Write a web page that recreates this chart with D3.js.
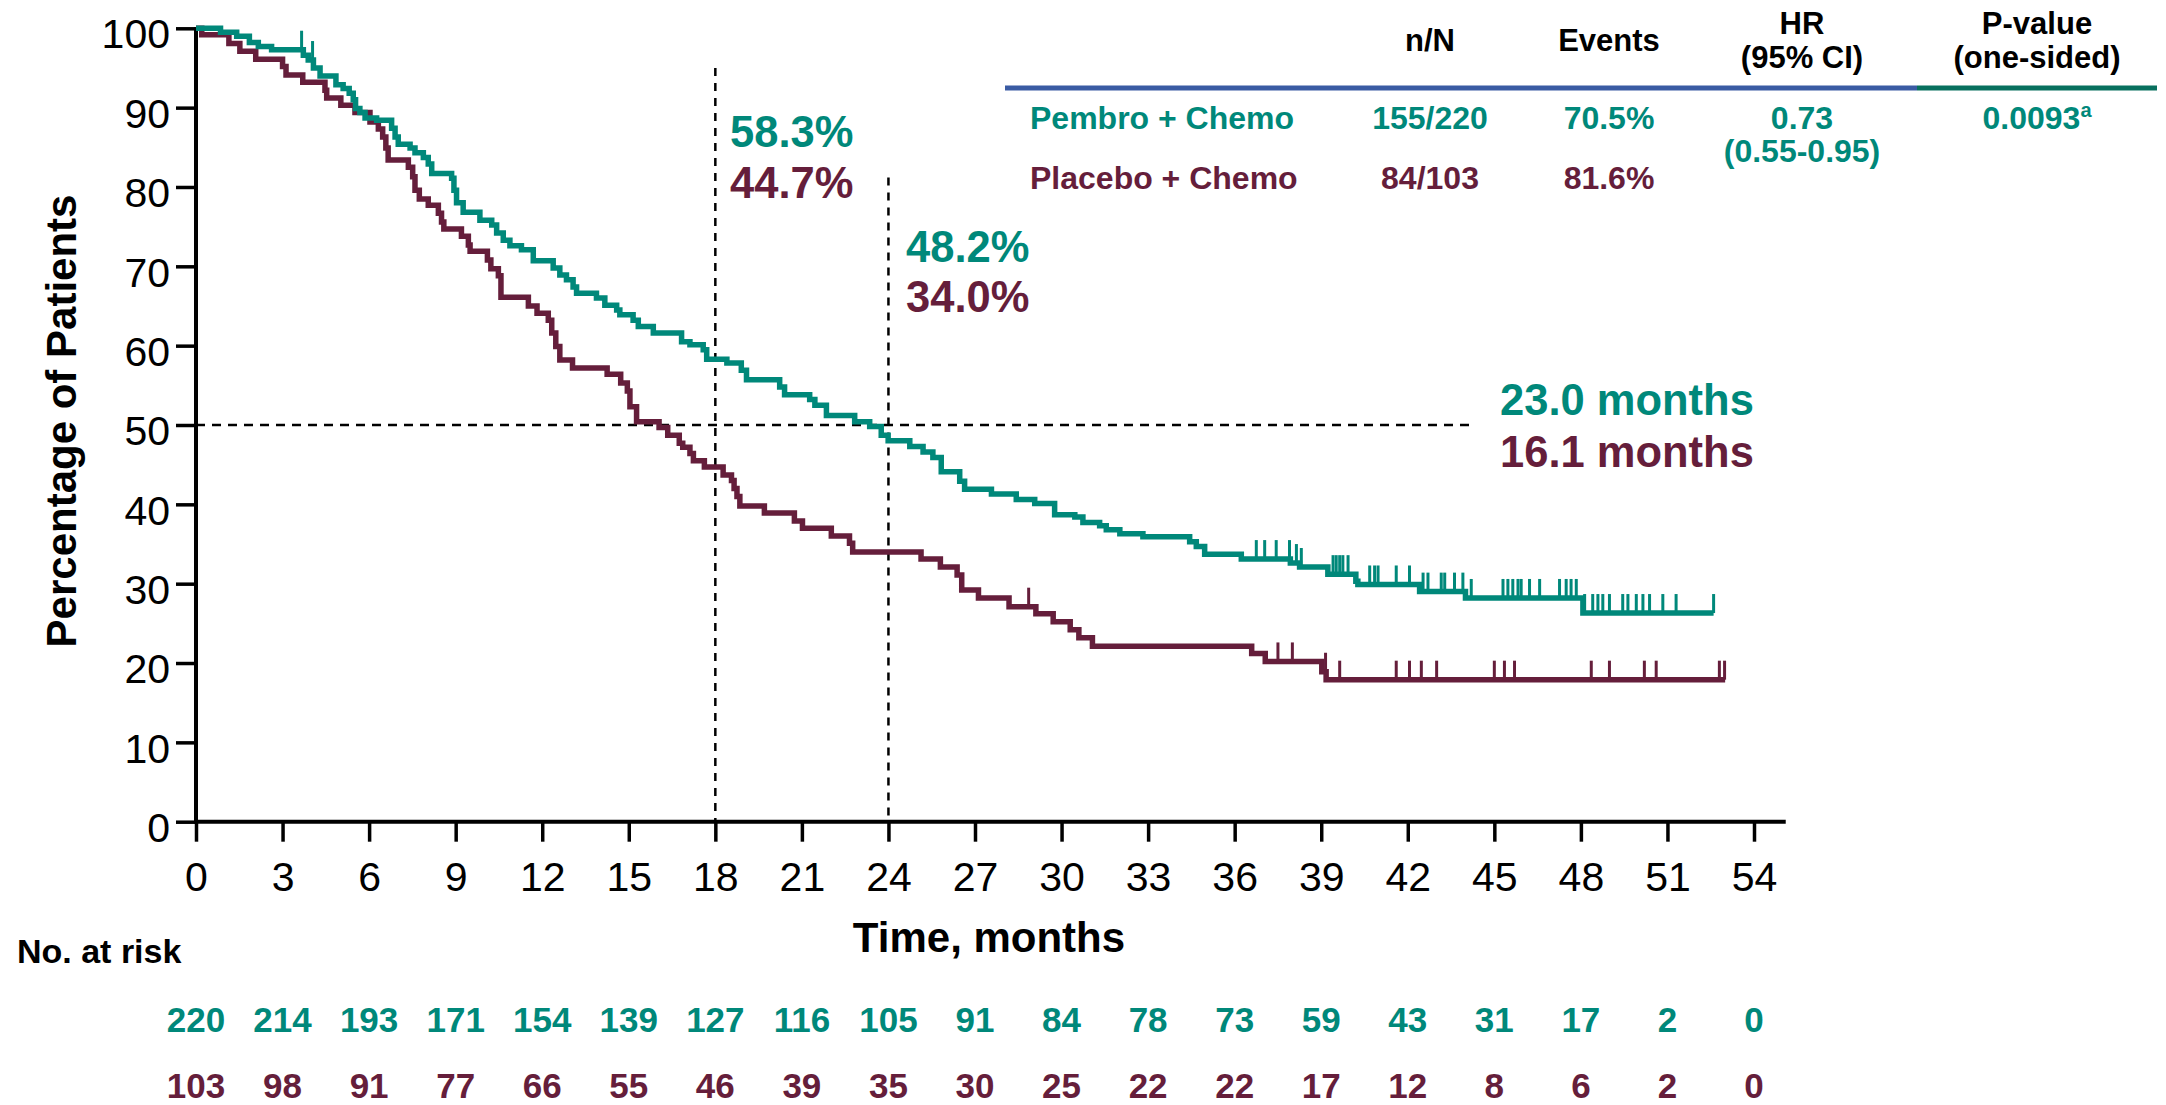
<!DOCTYPE html>
<html>
<head>
<meta charset="utf-8">
<script src="https://cdn.jsdelivr.net/npm/d3@7"></script>
<style>
  body { margin: 0; background: #fff; }
  svg { display: block; }
  text { font-family: "Liberation Sans", Arial, sans-serif; }
</style>
</head>
<body>
<div id="graphic"></div>
<script>
// ---- data ----
var monthTicks = d3.range(0, 55, 3);
var pctTicks = d3.range(0, 101, 10);

// Pembro + Chemo: step times (months) and survival (%) after each step
var pembroTimes = [0.85, 1.41, 1.85, 2.16, 2.62, 3.72, 3.89, 4.07, 4.30, 4.85, 5.10, 5.31, 5.45, 5.53, 5.68, 5.86,
	6.26, 6.78, 6.90, 7.01, 7.42, 7.59, 7.88, 8.05, 8.17, 8.86, 8.94, 9.03, 9.26, 9.84, 10.25, 10.42, 10.65, 10.88,
	11.28, 11.69, 12.38, 12.61, 12.84, 13.07, 13.19, 13.88, 14.17, 14.58, 14.69, 15.15, 15.33, 15.85, 16.83, 17.12,
	17.58, 17.70, 18.40, 18.90, 19.08, 20.23, 20.40, 21.27, 21.45, 21.85, 22.83, 23.35, 23.75, 23.99, 24.74, 25.20,
	25.54, 25.83, 26.47, 26.64, 27.57, 28.43, 29.07, 29.76, 30.46, 30.74, 31.32, 31.55, 32.02, 32.82, 34.44, 34.67,
	34.96, 36.23, 37.93, 38.25, 39.23, 40.20, 40.27, 42.41, 44.00, 48.07];
var pembroSurv = [99.5, 99.0, 98.2, 97.7, 97.3, 96.6, 96.0, 95.0, 94.0, 92.9, 92.4, 91.8, 91.0, 89.9, 89.4, 88.7,
	88.4, 87.4, 86.3, 85.4, 84.9, 84.3, 83.7, 82.9, 81.7, 81.1, 79.6, 78.0, 76.8, 75.8, 75.2, 74.2, 73.3, 72.6,
	72.1, 70.7, 69.8, 68.9, 68.3, 67.4, 66.6, 66.0, 65.1, 64.5, 63.9, 63.2, 62.4, 61.6, 60.5, 60.1,
	59.5, 58.3, 57.8, 56.9, 55.7, 54.8, 53.8, 53.2, 52.5, 51.2, 50.4, 49.8, 48.7, 48.0, 47.3, 46.6,
	45.9, 44.1, 42.9, 41.9, 41.3, 40.6, 40.1, 38.7, 38.4, 37.7, 37.3, 36.8, 36.3, 35.9, 35.3, 34.7,
	33.7, 33.1, 32.6, 32.1, 31.2, 30.3, 29.9, 29.0, 28.2, 26.3];
var pembroEnd = 52.6;
var pembroCensor = [3.66, 4.04, 36.75, 37.04, 37.44, 37.90, 38.14, 38.31, 39.41, 39.52, 39.64, 39.75, 39.93,
	40.68, 40.85, 40.97, 41.60, 42.06, 42.53, 42.70, 43.16, 43.28, 43.62, 43.91, 44.20, 45.30, 45.47, 45.64,
	45.82, 45.93, 46.22, 46.57, 47.26, 47.49, 47.66, 47.84, 48.13, 48.41, 48.59, 48.76, 48.99, 49.45, 49.63,
	49.92, 50.15, 50.38, 50.84, 51.30, 52.60];

// Placebo + Chemo
var placeboTimes = [0.20, 1.14, 1.52, 2.07, 3.00, 3.12, 3.70, 4.47, 4.53, 5.02, 5.51, 6.03, 6.32, 6.47, 6.58, 6.66,
	7.36, 7.51, 7.59, 7.74, 8.05, 8.40, 8.51, 8.59, 9.20, 9.44, 9.50, 10.10, 10.22, 10.48, 10.57, 11.52, 11.82,
	12.21, 12.33, 12.47, 12.61, 13.05, 14.25, 14.72, 14.95, 15.04, 15.27, 16.05, 16.35, 16.75, 16.87, 17.12,
	17.24, 17.62, 18.27, 18.56, 18.65, 18.75, 18.85, 19.70, 20.74, 21.02, 22.02, 22.65, 22.76, 25.13, 25.80,
	26.38, 26.54, 27.12, 28.18, 29.11, 29.71, 30.30, 30.60, 31.07, 36.59, 37.06, 39.02, 39.17];
var placeboSurv = [99.2, 98.1, 97.1, 96.1, 95.2, 94.1, 93.2, 92.2, 91.2, 90.3, 89.4, 88.2, 87.3, 86.3, 84.9, 83.4,
	82.5, 81.3, 79.6, 78.5, 77.7, 76.7, 75.6, 74.7, 73.8, 72.7, 71.9, 70.8, 69.7, 68.8, 66.1, 65.0, 64.1,
	63.2, 61.6, 59.9, 58.2, 57.2, 56.4, 55.3, 54.3, 52.3, 50.4, 49.7, 48.7, 47.7, 47.2, 46.4,
	45.5, 44.7, 43.7, 43.0, 42.0, 41.0, 39.8, 38.9, 37.9, 37.0, 36.0, 35.1, 34.0, 33.1, 32.1,
	31.1, 29.2, 28.2, 27.1, 26.2, 25.2, 24.2, 23.2, 22.1, 21.2, 20.2, 18.9, 17.9];
var placeboEnd = 53.0;
var placeboCensor = [28.86, 37.50, 38.00, 39.15, 39.64, 41.60, 42.06, 42.47, 43.00, 45.00, 45.35, 45.70,
	48.36, 48.99, 50.20, 50.61, 52.80, 52.98];

// numbers at risk
var riskPembro = [220, 214, 193, 171, 154, 139, 127, 116, 105, 91, 84, 78, 73, 59, 43, 31, 17, 2, 0];
var riskPlacebo = [103, 98, 91, 77, 66, 55, 46, 39, 35, 30, 25, 22, 22, 17, 12, 8, 6, 2, 0];

// landmark reference lines
var landmarks = [{ t: 18, top: 95.0 }, { t: 24, top: 81.2 }];
var medianLine = { v: 50, end: 44.3 };

// summary table
var tableHeaders = [
	{ lines: ["n/N"], col: 0 },
	{ lines: ["Events"], col: 1 },
	{ lines: ["HR", "(95% CI)"], col: 2 },
	{ lines: ["P-value", "(one-sided)"], col: 3 }
];
var armNames = ["Pembro + Chemo", "Placebo + Chemo"];
var armNN = ["155/220", "84/103"];
var armEvents = ["70.5%", "81.6%"];

var teal = "#00887a";
var maroon = "#651e3b";

// ---- layout ----
var W = 2166, H = 1105;
var svg = d3.select("#graphic").append("svg").attr("width", W).attr("height", H);

var x = d3.scaleLinear().domain([0, 54]).range([196, 1754]);
var y = d3.scaleLinear().domain([0, 100]).range([821.7, 28.3]);
var axisEnd = 55.1;

// x axis
var gx = svg.append("g")
	.attr("transform", "translate(0," + y(0) + ")")
	.call(d3.axisBottom(x).tickValues(monthTicks).tickSize(20).tickSizeOuter(0).tickPadding(20));
gx.select(".domain").remove();
gx.append("line")
	.attr("x1", x(0) - 2).attr("x2", x(axisEnd))
	.attr("stroke", "#000").attr("stroke-width", 4);
gx.selectAll(".tick line").attr("stroke", "#000").attr("stroke-width", 3.5);
gx.selectAll(".tick text").attr("font-size", 41).attr("fill", "#000");

// y axis
var gy = svg.append("g")
	.attr("transform", "translate(" + x(0) + ",0)")
	.call(d3.axisLeft(y).tickValues(pctTicks).tickSize(20).tickSizeOuter(0).tickPadding(6));
gy.select(".domain").remove();
gy.append("line")
	.attr("y1", y(0)).attr("y2", y(100) - 1)
	.attr("stroke", "#000").attr("stroke-width", 4);
gy.selectAll(".tick line").attr("stroke", "#000").attr("stroke-width", 3.5);
gy.selectAll(".tick text").attr("font-size", 41).attr("fill", "#000").attr("dy", "0.48em");

// axis titles
svg.append("text")
	.attr("transform", "translate(76," + (y(50) - 4) + ") rotate(-90)")
	.attr("text-anchor", "middle")
	.attr("font-size", 42).attr("font-weight", "bold")
	.text("Percentage of Patients");

svg.append("text")
	.attr("x", 989).attr("y", 952)
	.attr("text-anchor", "middle")
	.attr("font-size", 42).attr("font-weight", "bold")
	.text("Time, months");

// dashed reference lines
var dash = svg.append("g").attr("stroke", "#000").attr("stroke-width", 2.5).attr("fill", "none");
dash.selectAll(".vref").data(landmarks).enter().append("line")
	.attr("x1", function(d) { return x(d.t); })
	.attr("x2", function(d) { return x(d.t); })
	.attr("y1", function(d) { return y(d.top); })
	.attr("y2", y(0))
	.attr("stroke-dasharray", "8,7");
dash.append("line")
	.attr("x1", x(0)).attr("x2", x(medianLine.end))
	.attr("y1", y(medianLine.v)).attr("y2", y(medianLine.v))
	.attr("stroke-dasharray", "9,7");

// KM curves
function stepPoints(times, surv, end) {
	var pts = [[0, 100]];
	times.forEach(function(t, i) { pts.push([t, surv[i]]); });
	pts.push([end, surv[surv.length - 1]]);
	return pts;
}
function survAt(times, surv, t) {
	var v = 100;
	for (var i = 0; i < times.length; i++) {
		if (times[i] <= t) v = surv[i];
	}
	return v;
}
var kmLine = d3.line()
	.x(function(d) { return x(d[0]); })
	.y(function(d) { return y(d[1]); })
	.curve(d3.curveStepAfter);

var arms = [
	{ times: placeboTimes, surv: placeboSurv, end: placeboEnd, censor: placeboCensor, colour: maroon },
	{ times: pembroTimes, surv: pembroSurv, end: pembroEnd, censor: pembroCensor, colour: teal }
];

arms.forEach(function(arm) {
	svg.append("path")
		.datum(stepPoints(arm.times, arm.surv, arm.end))
		.attr("d", kmLine)
		.attr("fill", "none")
		.attr("stroke", arm.colour)
		.attr("stroke-width", 5.5)
		.attr("stroke-linejoin", "miter");

	svg.append("g").selectAll("line")
		.data(arm.censor)
		.enter().append("line")
		.attr("x1", function(d) { return x(d); })
		.attr("x2", function(d) { return x(d); })
		.attr("y1", function(d) { return y(survAt(arm.times, arm.surv, d)); })
		.attr("y2", function(d) { return y(survAt(arm.times, arm.surv, d)) - 19; })
		.attr("stroke", arm.colour)
		.attr("stroke-width", 3);
});

// landmark and median annotations
var notes = [
	{ text: "58.3%", x: 730, y: 147, c: teal },
	{ text: "44.7%", x: 730, y: 198, c: maroon },
	{ text: "48.2%", x: 906, y: 262, c: teal },
	{ text: "34.0%", x: 906, y: 312, c: maroon },
	{ text: "23.0 months", x: 1500, y: 415, c: teal },
	{ text: "16.1 months", x: 1500, y: 467, c: maroon }
];
svg.append("g").selectAll("text")
	.data(notes)
	.enter().append("text")
	.attr("x", function(d) { return d.x; })
	.attr("y", function(d) { return d.y; })
	.attr("fill", function(d) { return d.c; })
	.attr("font-size", 43.5)
	.attr("font-weight", "bold")
	.text(function(d) { return d.text; });

// summary table
var colX = [1430, 1609, 1802, 2037];
var table = svg.append("g").attr("font-weight", "bold");

tableHeaders.forEach(function(h) {
	var t = table.append("text")
		.attr("text-anchor", "middle")
		.attr("font-size", 31)
		.attr("fill", "#000");
	if (h.lines.length == 1) {
		t.attr("x", colX[h.col]).attr("y", 51).text(h.lines[0]);
	} else {
		t.attr("x", colX[h.col]).attr("y", 34).text(h.lines[0]);
		table.append("text")
			.attr("text-anchor", "middle").attr("font-size", 31).attr("fill", "#000")
			.attr("x", colX[h.col]).attr("y", 68).text(h.lines[1]);
	}
});

table.append("line")
	.attr("x1", 1005).attr("x2", 1917).attr("y1", 88).attr("y2", 88)
	.attr("stroke", "#3a5ba3").attr("stroke-width", 5);
table.append("line")
	.attr("x1", 1917).attr("x2", 2157).attr("y1", 88).attr("y2", 88)
	.attr("stroke", "#08705e").attr("stroke-width", 5);

var rowY = [129, 189];
var rowC = [teal, maroon];
armNames.forEach(function(name, i) {
	table.append("text")
		.attr("x", 1030).attr("y", rowY[i])
		.attr("font-size", 32).attr("fill", rowC[i])
		.text(name);
	table.append("text")
		.attr("x", colX[0]).attr("y", rowY[i]).attr("text-anchor", "middle")
		.attr("font-size", 32).attr("fill", rowC[i])
		.text(armNN[i]);
	table.append("text")
		.attr("x", colX[1]).attr("y", rowY[i]).attr("text-anchor", "middle")
		.attr("font-size", 32).attr("fill", rowC[i])
		.text(armEvents[i]);
});
table.append("text")
	.attr("x", colX[2]).attr("y", rowY[0]).attr("text-anchor", "middle")
	.attr("font-size", 32).attr("fill", teal)
	.text("0.73");
table.append("text")
	.attr("x", colX[2]).attr("y", 162).attr("text-anchor", "middle")
	.attr("font-size", 32).attr("fill", teal)
	.text("(0.55-0.95)");
var pv = table.append("text")
	.attr("x", colX[3]).attr("y", rowY[0]).attr("text-anchor", "middle")
	.attr("font-size", 32).attr("fill", teal);
pv.append("tspan").text("0.0093");
pv.append("tspan").attr("font-size", 20).attr("dy", -12).text("a");

// number at risk
svg.append("text")
	.attr("x", 17).attr("y", 963)
	.attr("font-size", 34).attr("font-weight", "bold")
	.text("No. at risk");

[riskPembro, riskPlacebo].forEach(function(row, r) {
	svg.append("g").selectAll("text")
		.data(row)
		.enter().append("text")
		.attr("x", function(d, i) { return x(monthTicks[i]); })
		.attr("y", r == 0 ? 1032 : 1098)
		.attr("text-anchor", "middle")
		.attr("font-size", 35)
		.attr("font-weight", "bold")
		.attr("fill", rowC[r])
		.text(function(d) { return d; });
});
</script>
</body>
</html>
